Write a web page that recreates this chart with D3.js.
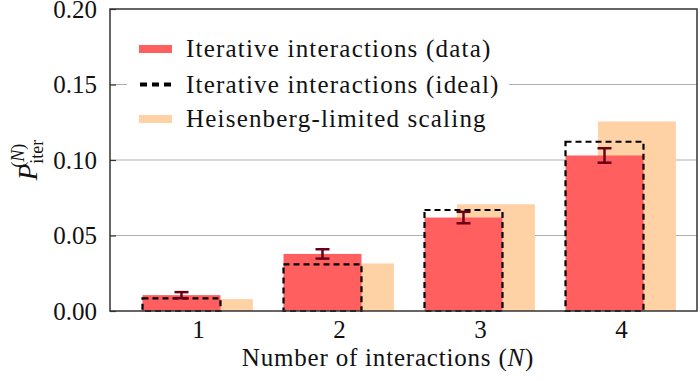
<!DOCTYPE html>
<html>
<head>
<meta charset="utf-8">
<script src="https://cdn.jsdelivr.net/npm/d3@7"></script>
<style>
  body { margin: 0; background: #fff; }
</style>
</head>
<body>
<svg></svg>
<script>
// chart data
let categories = [1, 2, 3, 4];
let dataValues = [0.0105, 0.0378, 0.0619, 0.1030];
let dataErrors = [0.0020, 0.0031, 0.0038, 0.0048];
let idealValues = [0.0084, 0.0309, 0.0669, 0.1121];
let heisenbergValues = [0.0079, 0.0315, 0.0707, 0.1255];
let yTicks = [0, 0.05, 0.10, 0.15, 0.20];
let legendLabels = ['Iterative interactions (data)', 'Iterative interactions (ideal)', 'Heisenberg-limited scaling'];

let width = 700;
let height = 381;
let plotLeft = 110, plotRight = 697, plotTop = 9, plotBottom = 311;
let serif = '"Liberation Serif", "DejaVu Serif", "Times New Roman", serif';

let red = '#ff5f5f';
let peach = '#ffd2a6';
let errColor = '#6a0018';

let svg = d3.select('svg').attr('width', width).attr('height', height)
    .style('font-family', serif);

let xScale = d3.scaleLinear().domain([0.376, 4.539]).range([plotLeft, plotRight]);
let yScale = d3.scaleLinear().domain([0, 0.2]).range([plotBottom, plotTop]);

let barW = 0.553;
let redOff = -0.117;
let peachOff = 0.113;
let bx = (n, off) => xScale(n + off - barW / 2);
let bw = xScale(barW) - xScale(0);

// gridlines
svg.append('g')
    .selectAll('line')
    .data(yTicks.filter(d => d > 0 && d < 0.2))
    .enter()
    .append('line')
    .attr('x1', plotLeft).attr('x2', plotRight)
    .attr('y1', d => yScale(d)).attr('y2', d => yScale(d))
    .attr('stroke', '#b0b0b0').attr('stroke-width', 1);

// heisenberg bars (behind)
svg.append('g')
    .selectAll('rect')
    .data(categories)
    .enter()
    .append('rect')
    .attr('x', (d) => bx(d, peachOff))
    .attr('width', bw)
    .attr('y', (d, i) => yScale(heisenbergValues[i]))
    .attr('height', (d, i) => yScale(0) - yScale(heisenbergValues[i]))
    .attr('fill', peach);

// data bars
svg.append('g')
    .selectAll('rect')
    .data(categories)
    .enter()
    .append('rect')
    .attr('x', (d) => bx(d, redOff))
    .attr('width', bw)
    .attr('y', (d, i) => yScale(dataValues[i]))
    .attr('height', (d, i) => yScale(0) - yScale(dataValues[i]))
    .attr('fill', red);

// ideal outlines
svg.append('g')
    .selectAll('rect')
    .data(categories)
    .enter()
    .append('rect')
    .attr('x', (d) => bx(d, redOff))
    .attr('width', bw)
    .attr('y', (d, i) => yScale(idealValues[i]))
    .attr('height', (d, i) => yScale(0) - yScale(idealValues[i]))
    .attr('fill', 'none')
    .attr('stroke', '#000')
    .attr('stroke-width', 2.2)
    .attr('stroke-dasharray', '6,4');

// error bars
let eb = svg.append('g').attr('stroke', errColor).attr('stroke-width', 2.5);
categories.forEach((n, i) => {
    let cx = xScale(n + redOff);
    let y1 = yScale(dataValues[i] + dataErrors[i]);
    let y2 = yScale(dataValues[i] - dataErrors[i]);
    eb.append('line').attr('x1', cx).attr('x2', cx).attr('y1', y1).attr('y2', y2);
    eb.append('line').attr('x1', cx - 7).attr('x2', cx + 7).attr('y1', y1).attr('y2', y1);
    eb.append('line').attr('x1', cx - 7).attr('x2', cx + 7).attr('y1', y2).attr('y2', y2);
});

// axes
let yAxis = d3.axisLeft(yScale)
    .tickValues(yTicks)
    .tickFormat(d3.format('.2f'))
    .tickSizeInner(-6)
    .tickSizeOuter(0)
    .tickPadding(13);

let gy = svg.append('g')
    .attr('transform', `translate(${plotLeft}, 0)`)
    .call(yAxis)
    .attr('font-family', serif);
gy.select('.domain').remove();
gy.selectAll('line').attr('stroke', '#333').attr('stroke-width', 1.2);
gy.selectAll('text').style('font-size', '25px').attr('fill', '#111');

let xAxis = d3.axisBottom(xScale)
    .tickValues(categories)
    .tickFormat(d3.format('d'))
    .tickSize(0)
    .tickPadding(9);

let gx = svg.append('g')
    .attr('transform', `translate(0, ${plotBottom})`)
    .call(xAxis)
    .attr('font-family', serif);
gx.select('.domain').remove();
gx.selectAll('text').style('font-size', '25px').attr('fill', '#111');

// frame
svg.append('rect')
    .attr('x', plotLeft).attr('y', plotTop)
    .attr('width', plotRight - plotLeft).attr('height', plotBottom - plotTop)
    .attr('fill', 'none').attr('stroke', '#333').attr('stroke-width', 1.5);

// legend
let lg = svg.append('g');
lg.append('rect').attr('x', 127).attr('y', 26).attr('width', 382).attr('height', 114).attr('fill', '#fff');
let rowsY = [49, 84.5, 119];
lg.append('rect').attr('x', 139).attr('y', rowsY[0] - 4).attr('width', 33).attr('height', 8).attr('fill', red);
lg.append('line').attr('x1', 140).attr('x2', 171).attr('y1', rowsY[1]).attr('y2', rowsY[1])
    .attr('stroke', '#000').attr('stroke-width', 4).attr('stroke-dasharray', '7,5');
lg.append('rect').attr('x', 139).attr('y', rowsY[2] - 4).attr('width', 33).attr('height', 8).attr('fill', peach);
lg.selectAll('text.leg')
    .data(legendLabels)
    .enter()
    .append('text')
    .attr('class', 'leg')
    .attr('x', 186)
    .attr('y', (d, i) => rowsY[i] + 8)
    .attr('fill', '#111')
    .style('font-size', '25px')
    .style('letter-spacing', '1.2px')
    .text(d => d);

// axis titles
let xt = svg.append('text')
    .attr('x', 388).attr('y', 366)
    .attr('text-anchor', 'middle')
    .attr('fill', '#111')
    .style('font-size', '25px')
    .style('letter-spacing', '0.8px');
xt.append('tspan').text('Number of interactions (');
xt.append('tspan').style('font-style', 'italic').text('N');
xt.append('tspan').text(')');

let yt = svg.append('text')
    .attr('transform', 'translate(37, 160) rotate(-90)')
    .attr('text-anchor', 'middle')
    .attr('fill', '#111')
    .style('font-size', '27px');
yt.append('tspan').style('font-style', 'italic').text('P');
yt.append('tspan').attr('dy', 6).style('font-size', '18px').text('iter');
yt.append('tspan').attr('dx', -28).attr('dy', -19).style('font-size', '18px').text('(');
yt.append('tspan').style('font-size', '18px').style('font-style', 'italic').text('N');
yt.append('tspan').style('font-size', '18px').text(')');
</script>
</body>
</html>
